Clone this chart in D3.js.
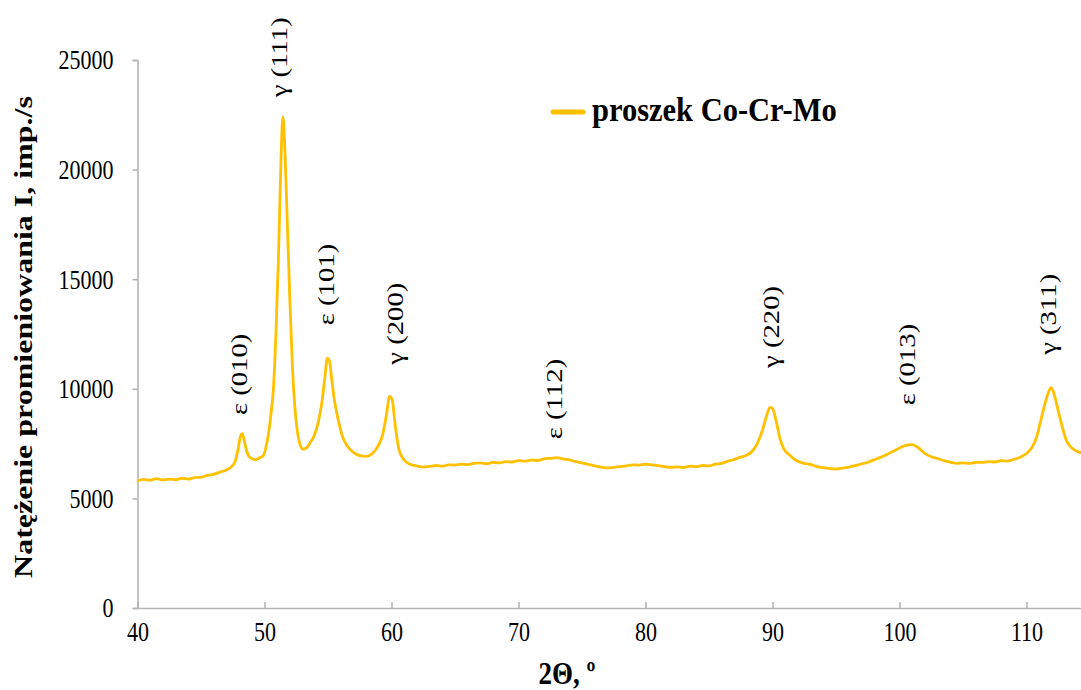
<!DOCTYPE html>
<html>
<head>
<meta charset="utf-8">
<script src="https://cdn.jsdelivr.net/npm/d3@7"></script>
<style>
  html, body { margin: 0; padding: 0; background: #fff; }
  svg { display: block; font-family: "Liberation Serif", "Times New Roman", serif; }
</style>
</head>
<body>
<svg id="chart"></svg>
<script>
// Diffraction pattern
const angles = [
  40.0, 40.5, 41.0, 41.5, 42.0, 42.5, 43.0, 43.5, 44.0, 44.5, 45.0, 45.5, 46.0, 46.5, 47.0, 47.4,
  47.7, 47.9, 48.1, 48.25, 48.4, 48.6, 48.8, 49.0, 49.3, 49.6, 49.9, 50.1, 50.3, 50.5, 50.7, 50.9,
  51.1, 51.3, 51.45, 51.6, 51.8, 52.0, 52.2, 52.4, 52.6, 52.8, 53.0, 53.3, 53.6, 53.9, 54.2, 54.5,
  54.75, 54.95, 55.1, 55.3, 55.5, 55.8, 56.1, 56.5, 57.0, 57.5, 58.0, 58.5, 59.0, 59.3, 59.6, 59.85,
  60.05, 60.3, 60.6, 61.0, 61.5, 62.0, 62.5, 63.0, 63.5, 64.0, 64.5, 65.0, 65.5, 66.0, 66.5, 67.0,
  67.5, 68.0, 68.5, 69.0, 69.5, 70.0, 70.5, 71.0, 71.5, 72.0, 72.5, 73.0, 73.5, 74.0, 74.5, 75.0,
  75.5, 76.0, 76.5, 77.0, 77.5, 78.0, 78.5, 79.0, 79.5, 80.0, 80.5, 81.0, 81.5, 82.0, 82.5, 83.0,
  83.5, 84.0, 84.5, 85.0, 85.5, 86.0, 86.5, 87.0, 87.5, 88.0, 88.4, 88.8, 89.2, 89.5, 89.8, 90.0,
  90.3, 90.6, 90.9, 91.3, 91.8, 92.5, 93.0, 93.5, 94.0, 94.5, 95.0, 95.5, 96.0, 96.5, 97.0, 97.5,
  98.0, 98.5, 99.0, 99.5, 100.0, 100.5, 101.0, 101.5, 102.0, 102.5, 103.0, 103.5, 104.0, 104.5, 105.0, 105.5,
  106.0, 106.5, 107.0, 107.5, 108.0, 108.5, 109.0, 109.5, 110.0, 110.4, 110.8, 111.1, 111.4, 111.7, 111.95, 112.2,
  112.5, 112.8, 113.1, 113.4, 113.8, 114.2, 114.6, 115.0
];
const intensity = [
  5800, 5870, 5830, 5900, 5840, 5880, 5850, 5920, 5880, 5950, 5960, 6050, 6100, 6200, 6300, 6450,
  6700, 7200, 7800, 7950, 7650, 7150, 6900, 6820, 6760, 6850, 6950, 7300, 7900, 8800, 10000, 12500,
  16000, 20500, 22400, 21000, 17500, 14000, 11000, 9100, 8000, 7450, 7250, 7300, 7550, 7850, 8400, 9300,
  10500, 11400, 11300, 10400, 9500, 8600, 7900, 7400, 7100, 6950, 6920, 7050, 7450, 7900, 8800, 9650,
  9500, 8300, 7200, 6750, 6550, 6480, 6430, 6460, 6500, 6470, 6530, 6520, 6560, 6540, 6600, 6620,
  6580, 6650, 6620, 6680, 6660, 6720, 6700, 6750, 6730, 6800, 6830, 6860, 6800, 6760, 6680, 6620,
  6550, 6480, 6430, 6390, 6420, 6450, 6480, 6530, 6520, 6560, 6530, 6500, 6450, 6420, 6440, 6410,
  6470, 6450, 6500, 6480, 6560, 6600, 6700, 6780, 6880, 6980, 7150, 7500, 8100, 8700, 9150, 9100,
  8500, 7700, 7250, 7000, 6750, 6600, 6550, 6450, 6400, 6360, 6340, 6380, 6430, 6500, 6570, 6650,
  6760, 6870, 7000, 7150, 7300, 7420, 7450, 7300, 7050, 6900, 6820, 6720, 6650, 6600, 6620, 6600,
  6650, 6640, 6680, 6660, 6720, 6700, 6780, 6880, 7050, 7300, 7800, 8500, 9200, 9800, 10050, 9700,
  9000, 8300, 7700, 7400, 7200, 7100, 7050, 7000
];

// Peak annotations: label, angle, level where the label starts
const peakNames = ['ε (010)', 'γ (111)', 'ε (101)', 'γ (200)', 'ε (112)', 'γ (220)', 'ε (013)', 'γ (311)'];
const peakAngles = [48.65, 51.75, 55.5, 60.9, 73.45, 90.55, 101.2, 112.35];
const peakLevels = [8800, 23300, 12900, 11100, 7700, 10950, 9250, 11550];

const xTicks = [40, 50, 60, 70, 80, 90, 100, 110];
const yTicks = [0, 5000, 10000, 15000, 20000, 25000];

const W = 1081, H = 690;
const stretch = 1.25; // text in the picture is drawn taller than wide
const svg = d3.select('#chart').attr('width', W).attr('height', H);

const x = d3.scaleLinear().domain([40, 120]).range([137.5, 137.5 + 80 * 12.7]);
const y = d3.scaleLinear().domain([0, 25000]).range([608, 60]);

const axisColor = '#b4b4b4';

// y axis
const yAxis = svg.append('g')
  .attr('transform', `translate(${x(40)},0)`)
  .call(d3.axisLeft(y).tickValues(yTicks).tickSize(5).tickPadding(19).tickFormat(d3.format('d')));
yAxis.select('.domain').attr('stroke', axisColor).attr('stroke-width', 1.6);
yAxis.selectAll('.tick line').attr('stroke', axisColor).attr('stroke-width', 1.6);
yAxis.selectAll('.tick text')
  .attr('font-family', '"Liberation Serif", serif')
  .attr('font-size', 22).attr('fill', '#000')
  .attr('transform', `scale(1,${stretch})`);

// x axis, ticks pointing up into the plot
const xAxis = svg.append('g')
  .attr('transform', `translate(0,${y(0)})`)
  .call(d3.axisBottom(x).tickValues(xTicks).tickSizeInner(-6).tickSizeOuter(0).tickPadding(10));
xAxis.select('.domain').attr('stroke', axisColor).attr('stroke-width', 1.6);
xAxis.selectAll('.tick line').attr('stroke', axisColor).attr('stroke-width', 1.6);
xAxis.selectAll('.tick text')
  .attr('font-family', '"Liberation Serif", serif')
  .attr('font-size', 22).attr('fill', '#000')
  .attr('dy', '0.75em')
  .attr('transform', `scale(1,${stretch})`);

// the pattern
const points = angles.map((a, i) => [a, intensity[i]]);
const line = d3.line().x(d => x(d[0])).y(d => y(d[1])).curve(d3.curveMonotoneX);
svg.append('path')
  .datum(points)
  .attr('fill', 'none')
  .attr('stroke', '#ffc000')
  .attr('stroke-width', 2.8)
  .attr('stroke-linejoin', 'round')
  .attr('d', line);

// peak labels, rotated
svg.selectAll('.peak')
  .data(peakNames)
  .enter()
  .append('text')
  .attr('class', 'peak')
  .attr('transform', (d, i) => `translate(${x(peakAngles[i])},${y(peakLevels[i])}) scale(1,${stretch}) rotate(-90)`)
  .attr('font-size', 23)
  .attr('fill', '#000')
  .text(d => d);

// legend
svg.append('line')
  .attr('x1', 553).attr('x2', 583).attr('y1', 112).attr('y2', 112)
  .attr('stroke', '#ffc000').attr('stroke-width', 5).attr('stroke-linecap', 'round');
svg.append('text')
  .attr('transform', `translate(592,121) scale(1,1.1)`)
  .attr('font-size', 30.5).attr('font-weight', 'bold')
  .text('proszek Co-Cr-Mo');

// axis titles
svg.append('text')
  .attr('transform', `translate(32,337) scale(1,1.28) rotate(-90)`)
  .attr('text-anchor', 'middle')
  .attr('font-size', 25).attr('font-weight', 'bold')
  .text('Natężenie promieniowania I, imp./s');

svg.append('text')
  .attr('transform', `translate(567,684) scale(1,1.2)`)
  .attr('text-anchor', 'middle')
  .attr('font-size', 27).attr('font-weight', 'bold')
  .text('2Θ, º');
</script>
</body>
</html>
